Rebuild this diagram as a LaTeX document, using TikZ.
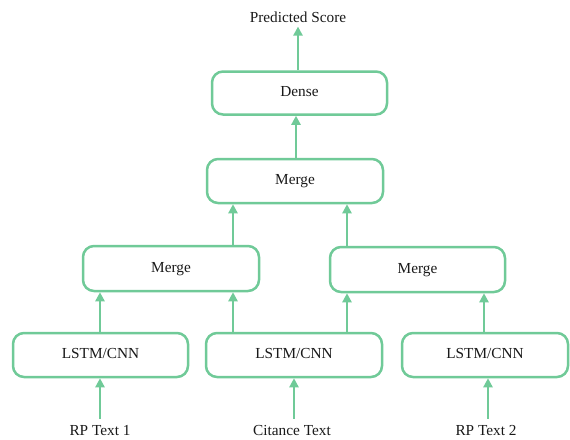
\documentclass[tikz,border=0pt]{standalone}
\usepackage{fontspec}
\setmainfont{Liberation Serif}
\usetikzlibrary{arrows.meta}
\definecolor{grn}{RGB}{112,202,152}
\begin{document}
\begin{tikzpicture}[x=1pt,y=-1pt,
  box/.style={draw=grn,line width=2.5pt,rounded corners=11pt,fill=white,
    minimum width=175pt,minimum height=43pt,inner sep=0pt,
    text height=10pt,text depth=3pt,
    font=\fontsize{15.3}{18}\selectfont,text=black!90},
  lbl/.style={inner sep=2pt,font=\fontsize{15.3}{18}\selectfont,text=black!90},
  arr/.style={draw=grn,line width=2.4pt,-{Triangle[length=9pt,width=9pt]}}]
\useasboundingbox (0,0) rectangle (570,439);
\node[box] (dense) at (299.5,93) {Dense};
\node[box,minimum width=176pt,minimum height=44pt] (mtop) at (295,181) {Merge};
\node[box,minimum width=176pt,minimum height=45pt] (mleft) at (171,268.5) {Merge};
\node[box,minimum height=45pt] (mright) at (417.5,269.5) {Merge};
\node[box,minimum height=44pt] (lL) at (100.5,355) {LSTM/CNN};
\node[box,minimum width=176pt,minimum height=44pt] (lM) at (294,355) {LSTM/CNN};
\node[box,minimum width=166pt,minimum height=44pt] (lR) at (485,355) {LSTM/CNN};
\node[lbl] (pred) at (298,17) {Predicted Score};
\node[lbl] (in1) at (100,431) {RP Text 1};
\node[lbl] (in2) at (292,431) {Citance Text};
\node[lbl] (in3) at (486,431) {RP Text 2};
% inputs
\draw[arr,shorten <=5pt] (in1.north -| 100,0) -- (lL.south -| 100,0);
\draw[arr,shorten <=5pt] (in2.north -| 294,0) -- (lM.south -| 294,0);
\draw[arr,shorten <=5pt] (in3.north -| 488,0) -- (lR.south -| 488,0);
% lstm -> merge
\draw[arr] (lL.north -| 100,0) -- (mleft.south -| 100,0);
\draw[arr] (lM.north -| 233,0) -- (mleft.south -| 233,0);
\draw[arr] (lM.north -| 347,0) -- (mright.south -| 347,0);
\draw[arr] (lR.north -| 484,0) -- (mright.south -| 484,0);
% merge -> merge
\draw[arr] (mleft.north -| 233,0) -- (mtop.south -| 233,0);
\draw[arr] (mright.north -| 347,0) -- (mtop.south -| 347,0);
% top
\draw[arr] (mtop.north -| 296,0) -- (dense.south -| 296,0);
\draw[arr,shorten >=2pt] (dense.north -| 298,0) -- (pred.south -| 298,0);
\end{tikzpicture}
\end{document}
